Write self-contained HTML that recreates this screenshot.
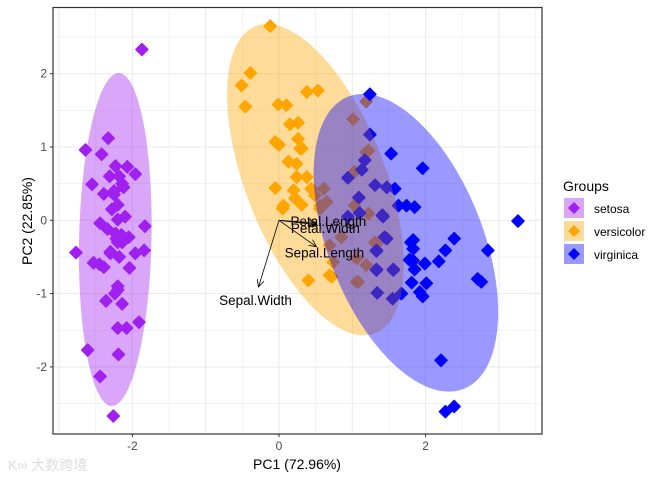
<!DOCTYPE html>
<html><head><meta charset="utf-8"><style>
html,body{margin:0;padding:0;background:#fff;}
svg{display:block;font-family:"Liberation Sans",Arial,sans-serif;}
</style></head><body>
<svg id="chart" width="672" height="480" xmlns="http://www.w3.org/2000/svg"></svg>
<script>
const groups = ["setosa","versicolor","virginica"];
const colors = ["#A020F0","#FFA500","#0000FF"];
const setosaX = [-1.87,-2.33,-2.64,-2.42,-2.23,-2.07,-2.31,-1.96,-2.14,-2.55,-2.39,-2.25,-2.20,-2.20,-2.44,-1.83,-2.34,-2.23,-2.05,-2.14,-2.77,-2.30,-2.18,-1.96,-1.84,-2.53,-2.39,-2.04,-2.20,-2.24,-2.36,-2.14,-1.91,-2.20,-2.08,-2.61,-2.19,-2.44,-2.26,-2.18,-2.22,-2.10,-2.30,-2.20,-2.25,-2.15,-2.28,-2.45,-2.12,-2.20];
const setosaY = [2.33,1.12,0.96,0.90,0.74,0.73,0.60,0.63,0.50,0.49,0.36,0.35,0.21,0.01,-0.04,-0.08,-0.12,-0.18,-0.23,-0.30,-0.44,-0.43,-0.50,-0.45,-0.41,-0.58,-0.64,-0.65,-0.90,-1.00,-1.10,-1.14,-1.39,-1.47,-1.47,-1.77,-1.83,-2.13,-2.67,0.60,-0.25,0.05,-0.45,-0.95,0.40,-0.20,0.15,-0.60,0.45,-0.30];
const versiX = [-0.12,-0.39,-0.51,-0.46,0.38,0.53,-0.01,0.10,0.15,0.26,-0.05,0.00,0.26,0.29,0.13,0.24,0.24,0.38,-0.05,0.20,0.22,0.06,0.31,0.05,1.19,1.01,0.31,1.19,1.03,0.44,0.61,0.56,0.65,0.56,1.03,1.22,0.69,0.85,1.31,1.06,0.74,0.40,0.69,1.06,1.22,1.33,1.19,1.08,0.72,0.49];
const versiY = [2.65,2.01,1.84,1.55,1.75,1.77,1.58,1.57,1.31,1.33,1.07,1.03,1.11,0.98,0.80,0.77,0.59,0.59,0.44,0.41,0.30,0.20,0.21,0.16,1.62,1.38,0.98,0.93,0.66,0.43,0.43,0.20,0.25,0.16,0.20,0.09,-0.34,-0.23,-0.30,-0.52,-0.57,-0.82,-0.75,-0.84,0.95,-0.32,-0.61,-0.84,-0.77,0.34];
const virgX = [1.24,1.24,1.53,1.96,1.17,1.13,0.94,1.31,1.47,1.58,1.09,1.74,1.85,3.26,0.94,1.42,1.47,1.83,2.39,1.33,1.83,2.27,2.85,2.18,1.83,1.99,1.85,1.33,1.56,2.71,2.76,1.81,2.01,1.34,1.67,1.55,1.92,1.96,2.21,2.27,2.39,1.10,1.41,1.44,1.33,1.80,1.78,1.33,1.56,1.63];
const virgY = [1.72,1.17,0.91,0.71,0.82,0.69,0.58,0.48,0.45,0.43,0.31,0.20,0.18,-0.01,0.05,0.05,-0.25,-0.27,-0.25,-0.42,-0.39,-0.41,-0.41,-0.56,-0.55,-0.59,-0.67,-0.67,-0.67,-0.80,-0.84,-0.85,-0.86,-0.99,-1.00,-1.07,-0.98,-1.04,-1.91,-2.61,-2.54,0.10,0.07,-0.23,-0.41,-0.30,-0.54,-0.68,-0.68,0.20];
const xTicks = [-2,0,2];
const yTicks = [-2,-1,0,1,2];
const varNames = ["Petal.Length","Petal.Width","Sepal.Length","Sepal.Width"];
const varX = [0.51,0.51,0.51,-0.28];
const varY = [-0.04,-0.06,-0.36,-0.91];

const NS="http://www.w3.org/2000/svg";
const svg=document.getElementById('chart');
const L=53,R=542,T=7.5,B=434;
const sx=v=>279+v*73.3;
const sy=v=>220.3-v*73.3;
function el(tag,attrs,parent){const e=document.createElementNS(NS,tag);for(const k in attrs)e.setAttribute(k,attrs[k]);(parent||svg).appendChild(e);return e;}

const grid=el('g',{});


for(let v=-3;v<=3.5;v+=0.5){const x=sx(v);if(x>L&&x<R)el('line',{x1:x,x2:x,y1:T,y2:B,stroke:'#ebebeb','stroke-width':Number.isInteger(v)?1.1:0.6},grid);}
for(let v=-3;v<=3;v+=0.5){const y=sy(v);if(y>T&&y<B)el('line',{x1:L,x2:R,y1:y,y2:y,stroke:'#ebebeb','stroke-width':Number.isInteger(v)?1.1:0.6},grid);}

const X=[setosaX,versiX,virgX],Y=[setosaY,versiY,virgY];
const pts=el('g',{});


function diamond(cx,cy,r){return `M${cx},${cy-r}L${cx+r},${cy}L${cx},${cy+r}L${cx-r},${cy}Z`;}
for(let g=0;g<3;g++){for(let i=0;i<X[g].length;i++){
  const p=el('path',{d:diamond(sx(X[g][i]),sy(Y[g][i]),6),fill:colors[g],stroke:colors[g],'stroke-width':1.5,'stroke-linejoin':'round'},pts);
  
  
}}
const ells=el('g',{});


for(let g=0;g<3;g++){
  const xs=X[g],ys=Y[g],n=xs.length;
  const mx=xs.reduce((a,b)=>a+b)/n,my=ys.reduce((a,b)=>a+b)/n;
  let a=0,b=0,c=0;for(let i=0;i<n;i++){const dx=xs[i]-mx,dy=ys[i]-my;a+=dx*dx;b+=dx*dy;c+=dy*dy;}
  a/=n-1;b/=n-1;c/=n-1;
  const tr=(a+c)/2,det=Math.sqrt(((a-c)/2)**2+b*b);
  const l1=tr+det,l2=tr-det;const th=Math.atan2(l1-a,b||1e-9);
  const k=2.48;let d='';
  for(let j=0;j<=100;j++){const t=j/100*2*Math.PI;const u=k*Math.sqrt(l1)*Math.cos(t),w=k*Math.sqrt(Math.max(l2,0))*Math.sin(t);
    const px=mx+u*Math.cos(th)-w*Math.sin(th),py=my+u*Math.sin(th)+w*Math.cos(th);d+=(j?'L':'M')+sx(px)+','+sy(py);}
  const e=el('path',{d:d+'Z',fill:colors[g],'fill-opacity':0.4},ells);
  
  
}
const arr=el('g',{});


const labOff=[[12,-1],[9,4.5],[8,7],[-3,14]];
for(let i=0;i<4;i++){
  const x1=sx(0),y1=sy(0),x2=sx(varX[i]),y2=sy(varY[i]);
  el('line',{x1,y1,x2,y2,stroke:'#000','stroke-width':0.8},arr);
  const ang=Math.atan2(y2-y1,x2-x1);
  const h=8;
  el('polyline',{points:`${x2-h*Math.cos(ang-0.45)},${y2-h*Math.sin(ang-0.45)} ${x2},${y2} ${x2-h*Math.cos(ang+0.45)},${y2-h*Math.sin(ang+0.45)}`,fill:'none',stroke:'#000','stroke-width':0.8},arr);
  const t=el('text',{x:x2+labOff[i][0],y:y2+labOff[i][1]+4,'text-anchor':'middle','font-size':13.5,fill:'#000'},arr);
  t.textContent=varNames[i];
  
  
}
const frame=el('rect',{x:L,y:T,width:R-L,height:B-T,fill:'none',stroke:'#333','stroke-width':1.2});


const axes=el('g',{});


xTicks.forEach(v=>{el('line',{x1:sx(v),x2:sx(v),y1:B,y2:B+3,stroke:'#333'},axes);const t=el('text',{x:sx(v),y:B+16,'text-anchor':'middle','font-size':12,fill:'#4d4d4d'},axes);t.textContent=v;});
yTicks.forEach(v=>{el('line',{x1:L-3,x2:L,y1:sy(v),y2:sy(v),stroke:'#333'},axes);const t=el('text',{x:L-6,y:sy(v)+4,'text-anchor':'end','font-size':12,fill:'#4d4d4d'},axes);t.textContent=v;});
</script>
<svg style="position:absolute;left:0;top:0" width="672" height="480" xmlns="http://www.w3.org/2000/svg">
<text x="297" y="469" text-anchor="middle" font-size="14" font-family="Liberation Sans, sans-serif">PC1 (72.96%)</text>
<text transform="translate(32,221) rotate(-90)" text-anchor="middle" font-size="14" font-family="Liberation Sans, sans-serif">PC2 (22.85%)</text>
<g font-family="Liberation Sans, sans-serif">
<text x="563" y="191" font-size="14">Groups</text>
<g><rect x="564" y="198" width="20" height="20" fill="#A020F0" fill-opacity="0.4"/><path d="M574,202L580,208L574,214L568,208Z" fill="#A020F0"/><text x="594" y="213" font-size="12">setosa</text></g>
<g><rect x="564" y="221" width="20" height="20" fill="#FFA500" fill-opacity="0.4"/><path d="M574,225L580,231L574,237L568,231Z" fill="#FFA500"/><text x="594" y="236" font-size="12">versicolor</text></g>
<g><rect x="564" y="244" width="20" height="20" fill="#0000FF" fill-opacity="0.4"/><path d="M574,248L580,254L574,260L568,254Z" fill="#0000FF"/><text x="594" y="259" font-size="12">virginica</text></g>
</g>
<text x="8" y="470" font-size="14" fill="#ddd" font-family="Liberation Sans, Noto Sans CJK SC, sans-serif">K∞ 大数跨境</text>
</svg>
</body></html>
